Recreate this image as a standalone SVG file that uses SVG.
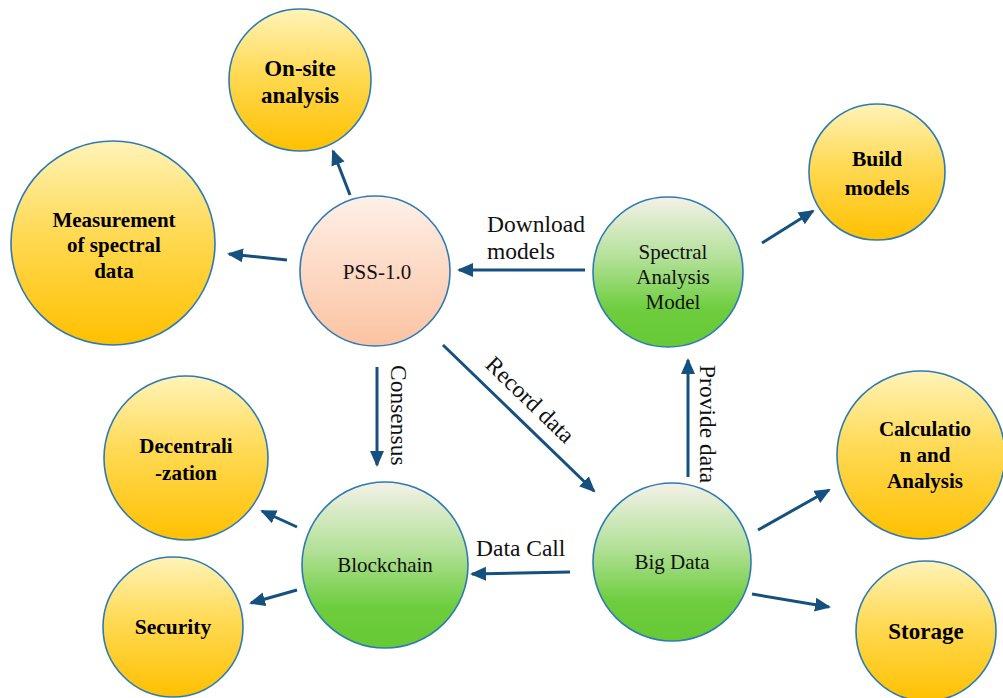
<svg xmlns="http://www.w3.org/2000/svg" width="1003" height="698" viewBox="0 0 1003 698">
  <defs>
    <linearGradient id="gYellow" x1="0" y1="0" x2="0" y2="1">
      <stop offset="0" stop-color="#FFF3B8"/>
      <stop offset="0.45" stop-color="#FFDA55"/>
      <stop offset="1" stop-color="#FFC000"/>
    </linearGradient>
    <linearGradient id="gGreen" x1="0" y1="0" x2="0" y2="1">
      <stop offset="0" stop-color="#F4F1E8"/>
      <stop offset="0.4" stop-color="#B4E19A"/>
      <stop offset="0.75" stop-color="#6ECD3E"/>
      <stop offset="1" stop-color="#66C935"/>
    </linearGradient>
    <linearGradient id="gPink" x1="0" y1="0" x2="0" y2="1">
      <stop offset="0" stop-color="#FEF0E8"/>
      <stop offset="0.5" stop-color="#FDD9C4"/>
      <stop offset="1" stop-color="#FBC3A2"/>
    </linearGradient>
    <marker id="arrow" markerUnits="userSpaceOnUse" markerWidth="18" markerHeight="16" refX="14" refY="7" orient="auto">
      <path d="M0,0 L16,7 L0,14 z" fill="#15507F"/>
    </marker>
    <style>
      .node { stroke: #2D7AB5; stroke-width: 1.6; }
      .yellow { fill: url(#gYellow); }
      .green { fill: url(#gGreen); }
      .pink { fill: url(#gPink); }
      text { font-family: "Liberation Serif", "Times New Roman", serif; }
      .bold { font-weight: bold; font-size: 21px; fill: #000; text-anchor: middle; }
      .reg { font-size: 21px; fill: #111; text-anchor: middle; }
      .lbl { font-size: 23.5px; fill: #111; }
      .edge { stroke: #15507F; stroke-width: 3; fill: none; marker-end: url(#arrow); }
    </style>
  </defs>
  <rect width="1003" height="698" fill="#FFFFFF"/>

  <!-- connectors and their labels -->
  <g id="connectors">
    <line class="edge" x1="350" y1="195" x2="333" y2="151"/>
    <line class="edge" x1="287" y1="260" x2="229" y2="254"/>
    <line class="edge" x1="585" y1="270" x2="459" y2="270"/>
    <line class="edge" x1="762" y1="243" x2="813" y2="211"/>
    <line class="edge" x1="377" y1="367" x2="377" y2="465"/>
    <line class="edge" x1="443" y1="345" x2="594" y2="491"/>
    <line class="edge" x1="688" y1="477" x2="688" y2="360"/>
    <line class="edge" x1="570" y1="572" x2="472" y2="574"/>
    <line class="edge" x1="758" y1="530" x2="829" y2="490"/>
    <line class="edge" x1="752" y1="594" x2="829" y2="607"/>
    <line class="edge" x1="297" y1="527" x2="262" y2="511"/>
    <line class="edge" x1="297" y1="590" x2="251" y2="603"/>
    <text class="lbl" x="487" y="232">Download</text>
    <text class="lbl" x="487" y="259">models</text>
    <text class="lbl" x="476" y="556">Data Call</text>
    <text class="lbl" transform="translate(391,365) rotate(90)">Consensus</text>
    <text class="lbl" transform="translate(700,365) rotate(90)">Provide data</text>
    <text class="lbl" transform="translate(484,366) rotate(44)">Record data</text>
  </g>

  <g id="on-site">
    <circle class="node yellow" cx="300" cy="80" r="71"/>
    <text class="bold" x="300" y="76" style="font-size:23px">On-site</text>
    <text class="bold" x="300" y="103" style="font-size:23px">analysis</text>
  </g>

  <g id="measurement">
    <circle class="node yellow" cx="113" cy="243" r="102"/>
    <text class="bold" x="114" y="227">Measurement</text>
    <text class="bold" x="114" y="252">of spectral</text>
    <text class="bold" x="114" y="278">data</text>
  </g>

  <g id="pss">
    <circle class="node pink" cx="375" cy="271" r="75"/>
    <text class="reg" x="377" y="279">PSS-1.0</text>
  </g>

  <g id="spectral-model">
    <circle class="node green" cx="668" cy="272" r="75"/>
    <text class="reg" x="673" y="259">Spectral</text>
    <text class="reg" x="673" y="284">Analysis</text>
    <text class="reg" x="673" y="309">Model</text>
  </g>

  <g id="build-models">
    <circle class="node yellow" cx="877" cy="172" r="68"/>
    <text class="bold" x="877" y="166" style="font-size:21.5px">Build</text>
    <text class="bold" x="877" y="195" style="font-size:21.5px">models</text>
  </g>

  <g id="decentralization">
    <circle class="node yellow" cx="186" cy="458" r="82"/>
    <text class="bold" x="186" y="453" style="font-size:21px">Decentrali</text>
    <text class="bold" x="186" y="480" style="font-size:21px">-zation</text>
  </g>

  <g id="security">
    <circle class="node yellow" cx="173" cy="627" r="70"/>
    <text class="bold" x="173" y="634" style="font-size:21.5px">Security</text>
  </g>

  <g id="blockchain">
    <circle class="node green" cx="385" cy="565" r="83"/>
    <text class="reg" x="385" y="572">Blockchain</text>
  </g>

  <g id="big-data">
    <circle class="node green" cx="672" cy="562" r="79"/>
    <text class="reg" x="672" y="569">Big Data</text>
  </g>

  <g id="calculation">
    <circle class="node yellow" cx="921" cy="455" r="84"/>
    <text class="bold" x="925" y="436">Calculatio</text>
    <text class="bold" x="925" y="462">n and</text>
    <text class="bold" x="925" y="488">Analysis</text>
  </g>

  <g id="storage">
    <circle class="node yellow" cx="926" cy="631" r="70"/>
    <text class="bold" x="926" y="639" style="font-size:23px">Storage</text>
  </g>
</svg>
